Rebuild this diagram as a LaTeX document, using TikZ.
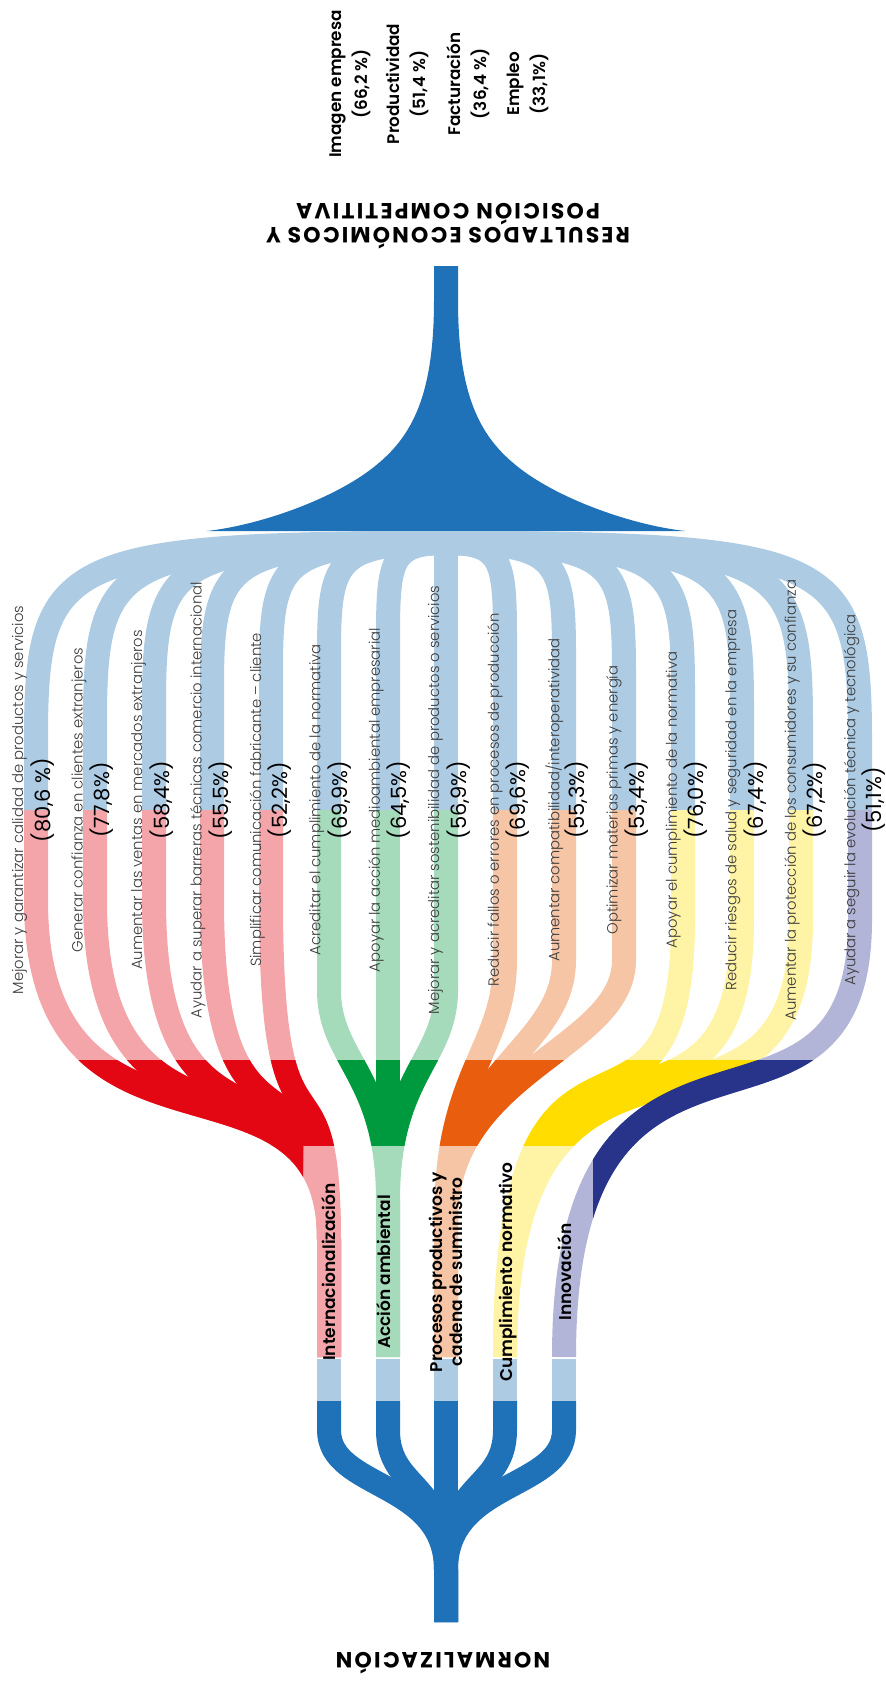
\documentclass[tikz,border=0pt]{standalone}
\usepackage{fontspec}
\setmainfont{Poppins}
\IfFontExistsTF{Poppins Light}{\newfontfamily\thinfont{Poppins Light}}{\newfontfamily\thinfont{Poppins}}
\IfFontExistsTF{Poppins SemiBold}{\newfontfamily\semifont{Poppins SemiBold}}{\newcommand\semifont{\bfseries}}

\definecolor{dkblue}{HTML}{1F71B8}
\definecolor{ltblue}{HTML}{ADCBE3}
\definecolor{redbright}{HTML}{E30613}
\definecolor{redpale}{HTML}{F4A5AA}
\definecolor{grnbright}{HTML}{009A3E}
\definecolor{grnpale}{HTML}{A5DABA}
\definecolor{orgbright}{HTML}{E95D0F}
\definecolor{orgpale}{HTML}{F6C5A6}
\definecolor{ylwbright}{HTML}{FFDD00}
\definecolor{ylwpale}{HTML}{FFF3A5}
\definecolor{navbright}{HTML}{28348A}
\definecolor{navpale}{HTML}{B2B5D7}
\definecolor{txtgray}{HTML}{3A3A3A}

% benefit bands, from the light blue fan down to the group columns
\newcommand\drawbands[1]{%
  \foreach \c/\X/\ya/\yb/\yc/\yd/\g in {
      36/329/900/1192/1028/1240/red, 95/329/900/1192/1028/1240/red,
      154/329/900/1192/1028/1240/red, 212/329/900/1192/1028/1240/red,
      271/329/900/1192/1028/1240/red,
      329/388/990/1060/1075/1200/grn, 388/388/990/1060/1075/1200/grn,
      446/388/990/1060/1075/1200/grn,
      505/446/960/1050/1070/1220/org, 564/446/960/1050/1070/1220/org,
      624/446/960/1050/1070/1220/org,
      683/505/920/1203/944/1357/ylw, 742/505/920/1203/944/1357/ylw,
      801/505/920/1203/944/1357/ylw,
      860/564/920/1190/950/1357/nav}{
    \draw[band,\g#1] (\c,810) -- (\c,\ya) .. controls (\c,\yb) and (\X,\yc) .. (\X,\yd) -- (\X,1357);
  }}

\begin{document}
\begin{tikzpicture}[x=0.5pt,y=-0.5pt]
\tikzset{
  band/.style={line width=12pt},
  toplbl/.style={rotate=90,align=center,font=\semifont\fontsize{8.4}{13}\selectfont},
  title/.style={rotate=180,align=center,font=\bfseries\fontsize{11}{10}\selectfont\addfontfeature{LetterSpace=10}},
  reason/.style={rotate=90,text=txtgray,font=\thinfont\fontsize{7.4}{9}\selectfont},
  share/.style={rotate=90,font=\fontsize{10.5}{12}\selectfont},
  grp/.style={rotate=90,align=center,font=\semifont\fontsize{8.5}{10}\selectfont}
}
\useasboundingbox (0,0) rectangle (886,1681);

% results
\node[toplbl] (imagen) at (350,84) {Imagen empresa\\(66,2 \%)};
\node[toplbl] (producti) at (408,84) {Productividad\\(51,4 \%)};
\node[toplbl] (factura) at (468,84) {Facturación\\(36,4 \%)};
\node[toplbl] (empleo) at (528,84) {Empleo\\(33,1\%)};
\node[title] (resultados) at (448,226) {RESULTADOS ECONÓMICOS Y\\POSICIÓN COMPETITIVA};

% trunk
\fill[dkblue] (434,266) -- (434,300) .. controls (434,400) and (410,440) .. (370,470)
  .. controls (330,500) and (260,525) .. (207,531) -- (685,531)
  .. controls (632,525) and (562,500) .. (522,470)
  .. controls (482,440) and (458,400) .. (458,300) -- (458,266) -- cycle;

% light blue fan
\foreach \c in {36,95,154,212,271,329,388,505,564,624,683,742,801,860}{
  \pgfmathsetmacro\ce{\c+0.06*(446-\c)}
  \pgfmathsetmacro\ye{620+0.29*abs(446-\c)}
  \draw[band,ltblue] (446,543) .. controls (\ce,543) and (\c,560) .. (\c,\ye) -- (\c,810);
}
\draw[band,ltblue] (446,531) -- (446,810);

% groups
\drawbands{pale}
\begin{scope}
  \clip (0,1060) rectangle (886,1145);
  \drawbands{bright}
\end{scope}
\begin{scope}
  \clip (0,1145) rectangle (303,1357);
  \drawbands{bright}
\end{scope}
\begin{scope}
  \clip (593,1145) rectangle (886,1357);
  \drawbands{bright}
\end{scope}

% normalizacion
\foreach \X in {329,388,446,505,564}
  \draw[band,ltblue] (\X,1359) -- (\X,1402);
\foreach \X in {329,388,505,564}
  \draw[band,dkblue] (\X,1401) -- (\X,1430) .. controls (\X,1490) and (446,1480) .. (446,1570) -- (446,1622);
\draw[band,dkblue] (446,1401) -- (446,1622);
\node[title] (norm) at (443,1663) {NORMALIZACIÓN};

% benefit labels
\foreach \i/\t/\p in {
    1/{Mejorar y garantizar calidad de productos y servicios}/{(80,6 \%)},
    2/{Generar confianza en clientes extranjeros}/{(77,8\%)},
    3/{Aumentar las ventas en mercados extranjeros}/{(58,4\%)},
    4/{Ayudar a superar barreras técnicas comercio internacional}/{(55,5\%)},
    5/{Simplificar comunicación fabricante – cliente}/{(52,2\%)},
    6/{Acreditar el cumplimiento de la normativa}/{(69,9\%)},
    7/{Apoyar la acción medioambiental empresarial}/{(64,5\%)},
    8/{Mejorar y acreditar sostenibilidad de productos o servicios}/{(56,9\%)},
    9/{Reducir fallos o errores en procesos de producción}/{(69,6\%)},
    10/{Aumentar compatibilidad/interoperatividad}/{(55,3\%)},
    11/{Optimizar materias primas y energía}/{(53,4\%)},
    12/{Apoyar el cumplimiento de la normativa}/{(76,0\%)},
    13/{Reducir riesgos de salud y seguridad en la empresa}/{(67,4\%)},
    14/{Aumentar la protección de los consumidores y su confianza}/{(67,2\%)},
    15/{Ayudar a seguir la evolución técnica y tecnológica}/{(51,1\%)}}{
  \node[reason] (r\i) at ({19.5+59.43*(\i-1)},800) {\t};
  \node[share] (p\i) at ({42.5+59.4*(\i-1)},800) {\p};
}

% group labels
\node[grp] (inter) at (328.5,1272) {Internacionalización};
\node[grp] (ambiental) at (383.5,1272) {Acción ambiental};
\node[grp] (procesos) at (446,1272) {Procesos productivos y\\cadena de suministro};
\node[grp] (cumpli) at (508.5,1272) {Cumplimiento normativo};
\node[grp] (innova) at (565,1272) {Innovación};
\end{tikzpicture}
\end{document}
